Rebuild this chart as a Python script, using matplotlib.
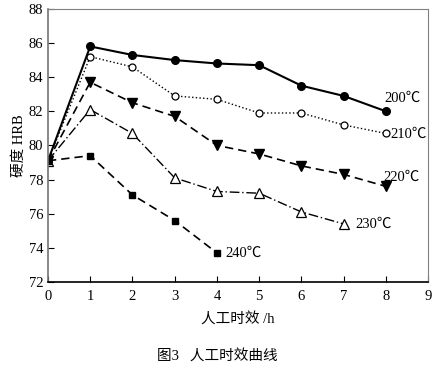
import matplotlib
matplotlib.use("Agg")
import matplotlib.pyplot as plt

plt.rcParams['font.family'] = ['Liberation Serif', 'Noto Sans CJK SC']

t_hours = [0, 1, 2, 3, 4, 5, 6, 7, 8]
hrb_200 = [79.1, 85.8, 85.3, 85.0, 84.8, 84.7, 83.5, 82.9, 82.0]
hrb_210 = [79.1, 85.2, 84.6, 82.9, 82.7, 81.9, 81.9, 81.2, 80.7]
hrb_220 = [79.1, 83.7, 82.5, 81.7, 80.0, 79.5, 78.8, 78.3, 77.6]
hrb_230 = [79.1, 82.1, 80.7, 78.1, 77.3, 77.2, 76.1, 75.4]
hrb_240 = [79.1, 79.4, 77.1, 75.6, 73.7]

fig = plt.figure(figsize=(4.4, 3.7), dpi=100)
ax = fig.add_axes([0.109, 0.238, 0.864, 0.738])

ax.plot(t_hours, hrb_200, color='black', lw=1.5, ls='-',
        marker='o', ms=5.5, mfc='black')
ax.plot(t_hours, hrb_210, color='black', lw=1.0, ls=':',
        marker='o', ms=5, mfc='white', mew=0.9)
ax.plot(t_hours, hrb_220, color='black', lw=1.2, ls=(0, (5, 3)),
        marker='v', ms=6.5, mfc='black')
ax.plot(t_hours[:len(hrb_230)], hrb_230, color='black', lw=1.0,
        ls=(0, (7, 2, 1, 2)), marker='^', ms=6.5, mfc='white', mew=0.9)
ax.plot(t_hours[:len(hrb_240)], hrb_240, color='black', lw=1.2,
        ls=(0, (5, 3)), marker='s', ms=5, mfc='black')

# series labels next to line ends
ax.text(7.96, 82.75, '200℃', fontsize=10.5, va='center')
ax.text(8.1, 80.65, '210℃', fontsize=10.5, va='center')
ax.text(7.93, 78.15, '220℃', fontsize=10.5, va='center')
ax.text(7.27, 75.4, '230℃', fontsize=10.5, va='center')
ax.text(4.2, 73.7, '240℃', fontsize=10.5, va='center')

ax.set_xlim(0, 9)
ax.set_ylim(72, 88)
ax.set_xticks(range(0, 10))
ax.set_yticks(range(72, 89, 2))
ax.tick_params(direction='in', length=4, labelsize=10.5, top=False, right=False)
ax.tick_params(axis='x', pad=6)

for side in ['top', 'right']:
    ax.spines[side].set_color('0.5')
    ax.spines[side].set_linewidth(0.8)
ax.spines['left'].set_color('0.45')
ax.spines['left'].set_linewidth(1.2)
ax.spines['bottom'].set_linewidth(1.2)

ax.set_xlabel('人工时效 /h', fontsize=10.5, labelpad=6)
ax.set_ylabel('硬度 HRB', fontsize=10.5, labelpad=2)

fig.text(0.495, 0.04, '图3   人工时效曲线', fontsize=10.5, ha='center', va='center')

fig.savefig('out.png', dpi=100)
